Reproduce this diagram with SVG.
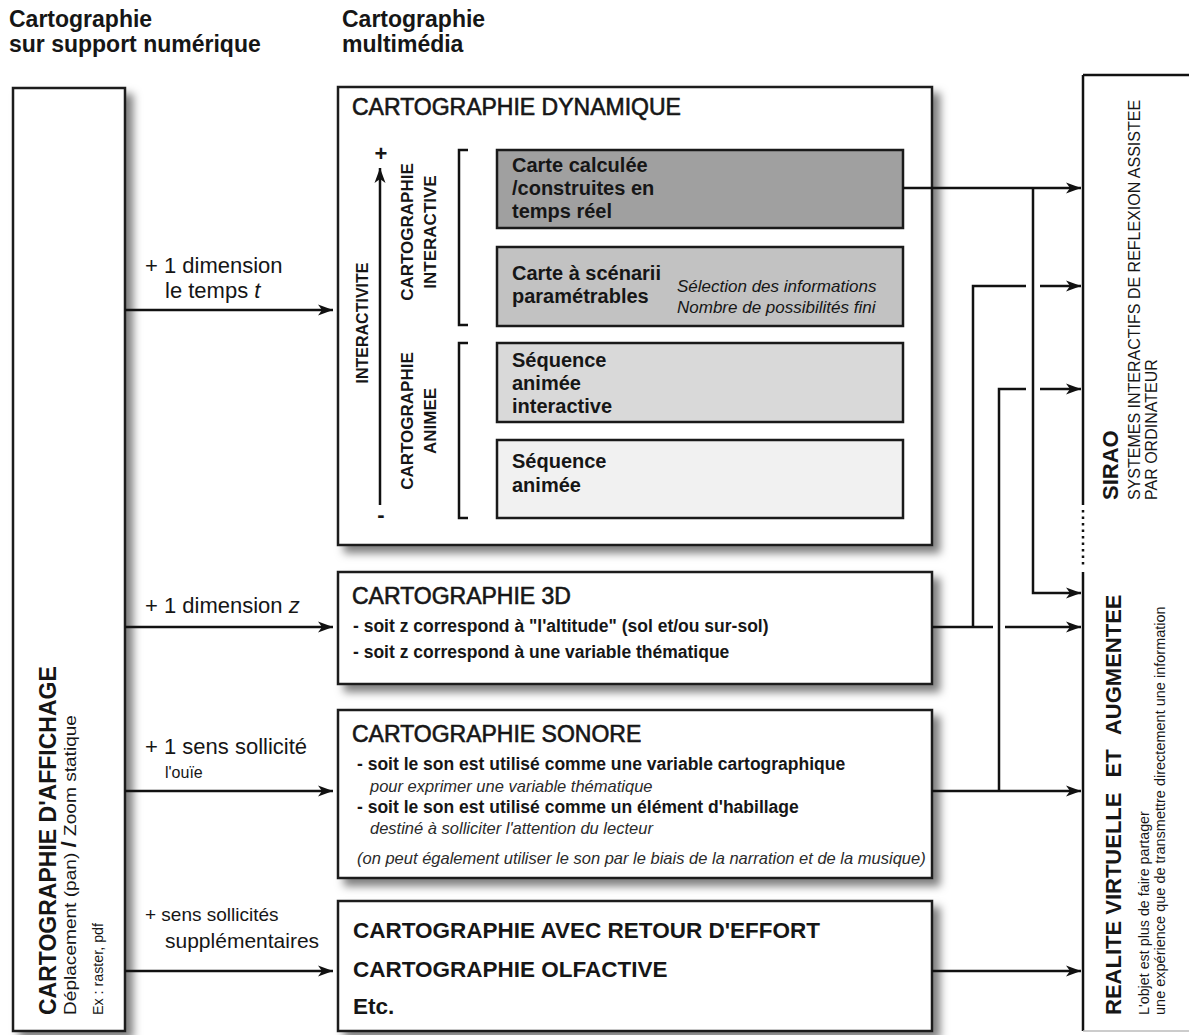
<svg xmlns="http://www.w3.org/2000/svg" width="1189" height="1035" viewBox="0 0 1189 1035">
<defs>
<filter id="sh" x="-10%" y="-10%" width="130%" height="130%">
<feDropShadow dx="7" dy="7" stdDeviation="4" flood-color="#000" flood-opacity="0.5"/>
</filter>
<marker id="ah" markerUnits="userSpaceOnUse" markerWidth="16" markerHeight="12" refX="15" refY="6" orient="auto">
<path d="M0,0.5 L15,6 L0,11.5 L4,6 Z" fill="#111"/>
</marker>
</defs>
<style>
text{font-family:"Liberation Sans",Arial,sans-serif;fill:#161616}
.box{fill:#fff;stroke:#1a1a1a;stroke-width:2.5;filter:url(#sh)}
.ibox{stroke:#1a1a1a;stroke-width:2.5}
.con{fill:none;stroke:#111;stroke-width:2.5}
.b{font-weight:bold}
.hdr{font-size:23px;font-weight:bold}
.ttl{font-size:23px;stroke:#161616;stroke-width:0.6}
.lbl{font-size:22px}
.in{font-size:20px;font-weight:bold}
.it{font-style:italic}
.bul{font-size:17.5px;font-weight:bold}
.ital{font-size:16.5px;font-style:italic;fill:#2a2a2a}
.rot{font-size:17px;font-weight:bold}
</style>
<rect width="1189" height="1035" fill="#fff"/>

<g id="headers">
<text class="hdr" x="9" y="27">Cartographie</text>
<text class="hdr" x="9" y="52">sur support numérique</text>
<text class="hdr" x="342" y="27">Cartographie</text>
<text class="hdr" x="342" y="52">multimédia</text>
</g>

<g id="affichage">
<rect class="box" x="13" y="88" width="112" height="943"/>
<text class="b" font-size="23" transform="translate(56,1015) rotate(-90)">CARTOGRAPHIE D'AFFICHAGE</text>
<text font-size="17" transform="translate(76,1015) rotate(-90)" textLength="300" lengthAdjust="spacingAndGlyphs">Déplacement (pan) <tspan font-weight="bold" font-size="20">/</tspan> Zoom statique</text>
<text font-size="15.5" transform="translate(103,1015) rotate(-90)" textLength="92" lengthAdjust="spacingAndGlyphs">Ex : raster, pdf</text>
</g>

<g id="dynamique">
<rect class="box" x="338" y="87" width="594" height="458"/>
<text class="ttl" x="352" y="115">CARTOGRAPHIE DYNAMIQUE</text>
<text class="b" font-size="22" x="381" y="161" text-anchor="middle">+</text>
<text class="b" font-size="22" x="381" y="522" text-anchor="middle">-</text>
<text class="b" font-size="16" transform="translate(368,323) rotate(-90)" text-anchor="middle">INTERACTIVITE</text>
<text class="rot" transform="translate(413,232) rotate(-90)" text-anchor="middle">CARTOGRAPHIE</text>
<text class="rot" transform="translate(436,232) rotate(-90)" text-anchor="middle">INTERACTIVE</text>
<text class="rot" transform="translate(413,421) rotate(-90)" text-anchor="middle">CARTOGRAPHIE</text>
<text class="rot" transform="translate(436,421) rotate(-90)" text-anchor="middle">ANIMEE</text>
<path class="con" d="M468,150 H459 V325 H468 M468,343 H459 V518 H468"/>
</g>

<g id="carte-calculee">
<rect class="ibox" x="497" y="150" width="406" height="78" fill="#a0a0a0"/>
<text class="in" x="512" y="172">Carte calculée</text>
<text class="in" x="512" y="195">/construites en</text>
<text class="in" x="512" y="218">temps réel</text>
</g>

<g id="carte-scenarii">
<rect class="ibox" x="497" y="247" width="406" height="79" fill="#c2c2c2"/>
<text class="in" x="512" y="280">Carte à scénarii</text>
<text class="in" x="512" y="303">paramétrables</text>
<text class="it" font-size="17" x="677" y="292" fill="#2a2a2a">Sélection des informations</text>
<text class="it" font-size="17" x="677" y="313" fill="#2a2a2a">Nombre de possibilités fini</text>
</g>

<g id="sequence-interactive">
<rect class="ibox" x="497" y="343" width="406" height="79" fill="#d9d9d9"/>
<text class="in" x="512" y="367">Séquence</text>
<text class="in" x="512" y="390">animée</text>
<text class="in" x="512" y="413">interactive</text>
</g>

<g id="sequence-animee">
<rect class="ibox" x="497" y="440" width="406" height="78" fill="#f1f1f1"/>
<text class="in" x="512" y="468">Séquence</text>
<text class="in" x="512" y="492">animée</text>
</g>

<g id="carto-3d">
<rect class="box" x="338" y="572" width="594" height="112"/>
<text class="ttl" x="352" y="604">CARTOGRAPHIE 3D</text>
<text class="bul" x="353" y="632">- soit z correspond à "l'altitude" (sol et/ou sur-sol)</text>
<text class="bul" x="353" y="658">- soit z correspond à une variable thématique</text>
</g>

<g id="carto-sonore">
<rect class="box" x="338" y="710" width="594" height="168"/>
<text class="ttl" x="352" y="742">CARTOGRAPHIE SONORE</text>
<text class="bul" x="357" y="770">- soit le son est utilisé comme une variable cartographique</text>
<text class="ital" x="370" y="792">pour exprimer une variable thématique</text>
<text class="bul" x="357" y="813">- soit le son est utilisé comme un élément d'habillage</text>
<text class="ital" x="370" y="834">destiné à solliciter l'attention du lecteur</text>
<text class="ital" x="357" y="864">(on peut également utiliser le son par le biais de la narration et de la musique)</text>
</g>

<g id="carto-autres">
<rect class="box" x="338" y="901" width="594" height="130"/>
<text class="b" font-size="22.5" x="353" y="938">CARTOGRAPHIE AVEC RETOUR D'EFFORT</text>
<text class="b" font-size="22.5" x="353" y="977">CARTOGRAPHIE OLFACTIVE</text>
<text class="b" font-size="22.5" x="353" y="1014">Etc.</text>
</g>

<g id="sirao-realite">
<path class="con" d="M1083,75 H1189 M1083,75 V505 M1083,572 V1031"/>
<path class="con" d="M1083,510 V568" stroke-dasharray="2.5,4"/>
<path d="M1083,1031 H1189" stroke="#bbb" stroke-width="1.5"/>
<text class="b" font-size="22" transform="translate(1118,500) rotate(-90)">SIRAO</text>
<text font-size="16" transform="translate(1140,500) rotate(-90)">SYSTEMES INTERACTIFS DE REFLEXION ASSISTEE</text>
<text font-size="16" transform="translate(1157,500) rotate(-90)">PAR ORDINATEUR</text>
<text class="b" font-size="22" transform="translate(1121,1015) rotate(-90)">REALITE VIRTUELLE <tspan dx="9">ET </tspan><tspan dx="9">AUGMENTEE</tspan></text>
<text font-size="14.3" transform="translate(1149,1015) rotate(-90)">L'objet est plus de faire partager</text>
<text font-size="14.5" transform="translate(1165,1015) rotate(-90)">une expérience que de transmettre directement une information</text>
</g>

<g id="labels">
<text class="lbl" x="145" y="273">+ 1 dimension</text>
<text class="lbl" x="165" y="298">le temps <tspan class="it">t</tspan></text>
<text class="lbl" x="145" y="613">+ 1 dimension <tspan class="it">z</tspan></text>
<text class="lbl" x="145" y="754">+ 1 sens sollicité</text>
<text font-size="16" x="165" y="778">l'ouïe</text>
<text font-size="19" x="145" y="921">+ sens sollicités</text>
<text font-size="21" x="165" y="948">supplémentaires</text>
</g>

<g id="connectors">
<path class="con" d="M380,505 V168" marker-end="url(#ah)"/>
<path class="con" d="M125,310 H333" marker-end="url(#ah)"/>
<path class="con" d="M125,627 H333" marker-end="url(#ah)"/>
<path class="con" d="M125,791 H333" marker-end="url(#ah)"/>
<path class="con" d="M125,971 H333" marker-end="url(#ah)"/>
<path class="con" d="M903,188 H1081" marker-end="url(#ah)"/>
<path class="con" d="M1033,188 V593 H1081" marker-end="url(#ah)"/>
<path class="con" d="M932,627 H993 M1005,627 H1081" marker-end="url(#ah)"/>
<path class="con" d="M973,627 V286 H1026 M1040,286 H1081" marker-end="url(#ah)"/>
<path class="con" d="M999,791 V389 H1026 M1040,389 H1081" marker-end="url(#ah)"/>
<path class="con" d="M932,791 H1081" marker-end="url(#ah)"/>
<path class="con" d="M932,971 H1081" marker-end="url(#ah)"/>
</g>
</svg>
